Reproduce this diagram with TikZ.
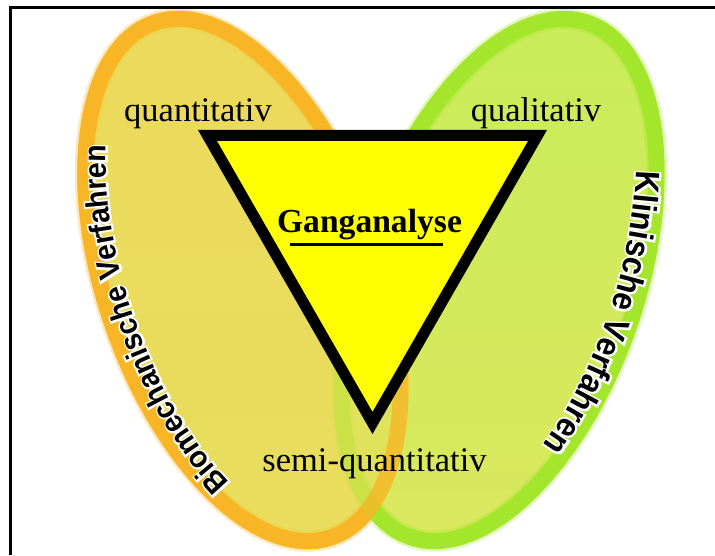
\documentclass[tikz,border=0pt]{standalone}
\usepackage{fontspec}
\setmainfont{Liberation Serif}
\newfontfamily\curvefont[FakeStretch=0.92]{Liberation Sans Bold}
\newfontfamily\halofont[FakeStretch=0.92, FakeBold=12]{Liberation Sans Bold}
\usetikzlibrary{decorations.text}
\definecolor{oband}{RGB}{248,182,38}
\definecolor{oinnerT}{RGB}{242,212,94}
\definecolor{oinnerB}{RGB}{232,222,92}
\definecolor{gband}{RGB}{164,230,44}
\definecolor{ginnerT}{RGB}{202,236,90}
\definecolor{ginnerB}{RGB}{218,232,94}
\definecolor{triyellow}{RGB}{255,255,0}
\tikzset{
  bandline/.style={line width=16},
  softband/.style={line width=21, draw opacity=0.3},
  serlabel/.style={font=\fontsize{34.5}{36}\selectfont, anchor=base, inner sep=0},
  tribox/.style={draw=black, fill=triyellow, line width=11, line join=miter},
}
\newcommand\leftarc{(243:115 and 256) arc[start angle=243, end angle=123, x radius=115, y radius=256]}
\newcommand\rightarc{(61:115 and 256) arc[start angle=61, end angle=-59, x radius=115, y radius=256]}
\begin{document}
\begin{tikzpicture}[x=1pt,y=1pt]
\useasboundingbox (0,0) rectangle (715,555);
\fill[white] (0,0) rectangle (715,555);

% orange ellipse, base layer
\begin{scope}[shift={(243,275)}, rotate=19]
  \shade[top color=oinnerT, bottom color=oinnerB] (0,0) ellipse [x radius=138, y radius=272];
  \draw[oband, softband] (0,0) ellipse [x radius=138, y radius=272];
  \draw[oband, bandline] (0,0) ellipse [x radius=138, y radius=272];
\end{scope}
% green ellipse
\begin{scope}[shift={(499,275)}, rotate=-19]
  \shade[top color=ginnerT, bottom color=ginnerB] (0,0) ellipse [x radius=138, y radius=272];
  \draw[gband, softband] (0,0) ellipse [x radius=138, y radius=272];
  \draw[gband, bandline] (0,0) ellipse [x radius=138, y radius=272];
\end{scope}
% orange overlay (transparent)
\begin{scope}[shift={(243,275)}, rotate=19]
  \fill[oinnerB, fill opacity=0.6] (0,0) ellipse [x radius=130, y radius=264];
  \draw[oband, bandline, draw opacity=0.8] (0,0) ellipse [x radius=138, y radius=272];
\end{scope}

% curved labels: white halo, then black text
\begin{scope}[shift={(243,275)}, rotate=19]
  \path[decorate, decoration={text along path, text align=center, text color=white,
     text={|\halofont\fontsize{31}{31}\selectfont|Biomechanische Verfahren}}] \leftarc;
  \path[decorate, decoration={text along path, text align=center, text color=black,
     text={|\curvefont\fontsize{31}{31}\selectfont|Biomechanische Verfahren}}] \leftarc;
\end{scope}
\begin{scope}[shift={(499,275)}, rotate=-19]
  \path[decorate, decoration={text along path, text align=center, text color=white,
     text={|\halofont\fontsize{34}{34}\selectfont|Klinische Verfahren}}] \rightarc;
  \path[decorate, decoration={text along path, text align=center, text color=black,
     text={|\curvefont\fontsize{34}{34}\selectfont|Klinische Verfahren}}] \rightarc;
\end{scope}

% triangle
\coordinate (t1) at (207.5,419.5);
\coordinate (t2) at (537.5,419.5);
\coordinate (t3) at (372.5,132);
\draw[tribox] (t1) -- (t2) -- (t3) -- cycle;

% labels
\node[serlabel] (quant) at (198,433) {quantitativ};
\node[serlabel] (qual) at (536,433) {qualitativ};
\node[serlabel] (semi) at (374.5,84) {semi-quantitativ};
\node[font=\bfseries\fontsize{33.6}{35}\selectfont, anchor=base, inner sep=0] (gang) at (369.5,322) {Ganganalyse};
\coordinate (ul1) at (290,310);
\coordinate (ul2) at (443,310);
\draw[line width=3] (ul1) -- (ul2);

% frame
\coordinate (f1) at (10.5,0);
\coordinate (f2) at (10.5,547.5);
\coordinate (f3) at (715,547.5);
\draw[line width=3] (f1) -- (f2) -- (f3);
\end{tikzpicture}
\end{document}
